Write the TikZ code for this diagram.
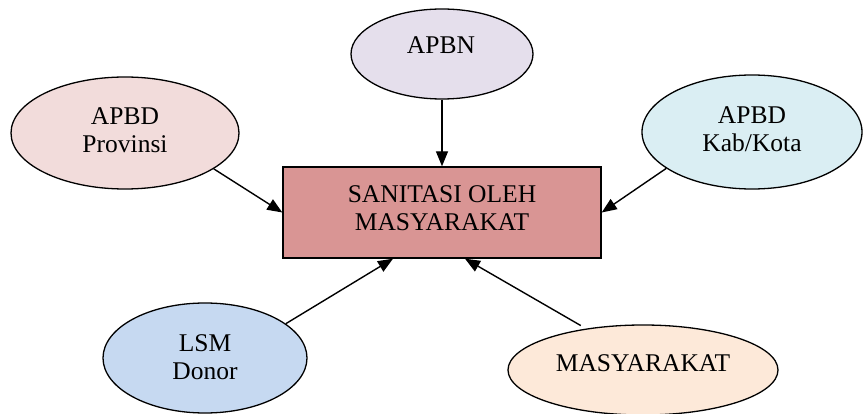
\documentclass[tikz,border=0pt]{standalone}
\usepackage{fontspec}
\setmainfont{Liberation Serif}
\usetikzlibrary{shapes.geometric,arrows.meta}
\definecolor{cApbn}{HTML}{E5DFEC}
\definecolor{cProv}{HTML}{F2DCDB}
\definecolor{cKab}{HTML}{DAEEF3}
\definecolor{cLsm}{HTML}{C6D9F1}
\definecolor{cMas}{HTML}{FDE9D9}
\definecolor{cRect}{HTML}{D99594}
\tikzset{
  ell/.style={ellipse, draw=black, line width=1.3pt, inner sep=0pt},
  txt/.style={align=center, font=\fontsize{25.5}{28.5}\selectfont, inner sep=0pt},
  box/.style={rectangle, draw=black, line width=1.4pt, fill=cRect, inner sep=0pt,
              minimum width=318pt, minimum height=91pt},
  conn/.style={line width=1.4pt, -{Triangle[length=15pt,width=12pt]}}
}
\begin{document}
\begin{tikzpicture}[x=1pt,y=-1pt]
\useasboundingbox (0,0) rectangle (863,414);
\node[box] (rect) at (442,212.5) {};
\node[txt] (rectT) at (442,208) {SANITASI OLEH\\MASYARAKAT};
\node[ell, fill=cApbn, minimum width=182pt, minimum height=90pt] (apbn) at (442,54) {};
\node[txt] (apbnT) at (441,45) {APBN};
\node[ell, fill=cProv, minimum width=228pt, minimum height=112pt] (prov) at (125,133) {};
\node[txt] (provT) at (125,130) {APBD\\Provinsi};
\node[ell, fill=cKab, minimum width=220pt, minimum height=114pt] (kab) at (752,132) {};
\node[txt] (kabT) at (752,129) {APBD\\Kab/Kota};
\node[ell, fill=cLsm, minimum width=204pt, minimum height=110pt] (lsm) at (205,358) {};
\node[txt] (lsmT) at (205,357) {LSM\\Donor};
\node[ell, fill=cMas, minimum width=270pt, minimum height=90pt] (mas) at (643,370) {};
\node[txt] (masT) at (643,363) {MASYARAKAT};
\draw[conn] (apbn.south) -- (rect.north);
\draw[conn] (prov.-22) -- (rect.west);
\draw[conn] (kab.203) -- (rect.east);
\draw[conn] (lsm.23) -- ([xshift=-49pt]rect.south);
\draw[conn, shorten <=6pt] (mas.144) -- ([xshift=23pt]rect.south);
\end{tikzpicture}
\end{document}
